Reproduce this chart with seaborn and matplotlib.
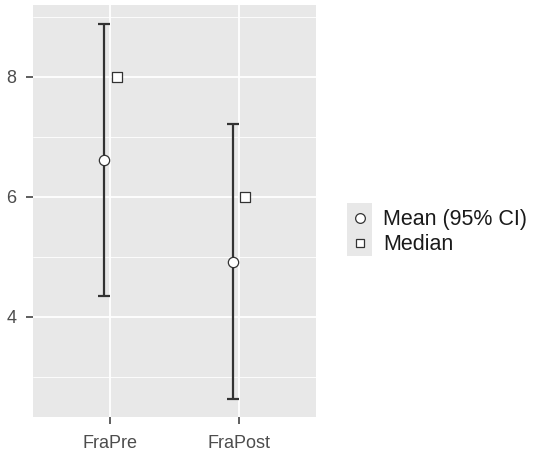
import matplotlib
matplotlib.use("Agg")
import matplotlib.pyplot as plt
import seaborn as sns
import pandas as pd
import numpy as np
from matplotlib.lines import Line2D
from matplotlib.patches import Rectangle
from matplotlib.ticker import MultipleLocator

categories = ["FraPre", "FraPost"]
means = [6.62, 4.92]
ci_low = [4.35, 2.63]
ci_high = [8.88, 7.22]
medians = [8.0, 6.0]

sns.set_theme(style="darkgrid")
plt.rcParams['font.family'] = ['Liberation Sans', 'DejaVu Sans']

df = pd.DataFrame({"cat": categories, "mean": means, "lo": ci_low,
                   "hi": ci_high, "median": medians})
df["pos"] = np.arange(len(df))

fig = plt.figure(figsize=(5.34, 4.58), dpi=100)
ax = fig.add_axes([0.062, 0.0895, 0.530, 0.9])
ax.set_facecolor("#e8e8e8")

dodge = 0.05
ax.errorbar(df["pos"] - dodge, df["mean"],
            yerr=[df["mean"] - df["lo"], df["hi"] - df["mean"]],
            fmt="none", ecolor="#333333", elinewidth=1.6, capsize=4.5,
            capthick=1.6, zorder=3)
sns.scatterplot(x=df["pos"] - dodge, y=df["mean"], ax=ax, marker="o", s=55,
                color="white", edgecolor="#333333", linewidth=0.9, zorder=4,
                legend=False)
sns.scatterplot(x=df["pos"] + dodge, y=df["median"], ax=ax, marker="s", s=45,
                color="white", edgecolor="#333333", linewidth=0.9, zorder=4,
                legend=False)

ax.set_xlim(-0.6, 1.6)
ax.set_ylim(2.33, 9.2)
ax.set_xticks(df["pos"])
ax.set_xticklabels(categories)
ax.yaxis.set_major_locator(MultipleLocator(2))
ax.yaxis.set_minor_locator(MultipleLocator(1))
ax.set_yticks([4, 6, 8])
ax.grid(which="major", color="white", linewidth=1.3)
ax.grid(which="minor", axis="y", color="white", linewidth=0.6)
ax.set_axisbelow(True)
ax.set_xlabel("")
ax.set_ylabel("")
for s in ax.spines.values():
    s.set_visible(False)
ax.tick_params(axis="both", which="major", length=5, width=1.1,
               color="#333333", labelcolor="#4d4d4d", labelsize=13)
ax.tick_params(axis="x", which="major", pad=8)
ax.tick_params(axis="y", which="major", pad=7)
ax.tick_params(axis="both", which="minor", length=0)
ax.tick_params(left=True, bottom=True)

# grey legend key background
fig.patches.append(Rectangle((347 / 534, (458 - 256) / 458), 25 / 534, 53 / 458,
                             transform=fig.transFigure, facecolor="#e8e8e8",
                             edgecolor="none", zorder=0))

handles = [
    Line2D([], [], marker="o", linestyle="none", markersize=7,
           markerfacecolor="white", markeredgecolor="#333333", markeredgewidth=0.9),
    Line2D([], [], marker="s", linestyle="none", markersize=6,
           markerfacecolor="white", markeredgecolor="#333333", markeredgewidth=0.9),
]
leg = fig.legend(handles, ["Mean (95% CI)", "Median"], loc="center left",
                 bbox_to_anchor=(0.637, 0.493), frameon=False, fontsize=15.5,
                 handlelength=1.0, handletextpad=0.6, labelspacing=0.2,
                 borderaxespad=0)
for t in leg.get_texts():
    t.set_color("#1a1a1a")

fig.savefig("out.png", dpi=100)
